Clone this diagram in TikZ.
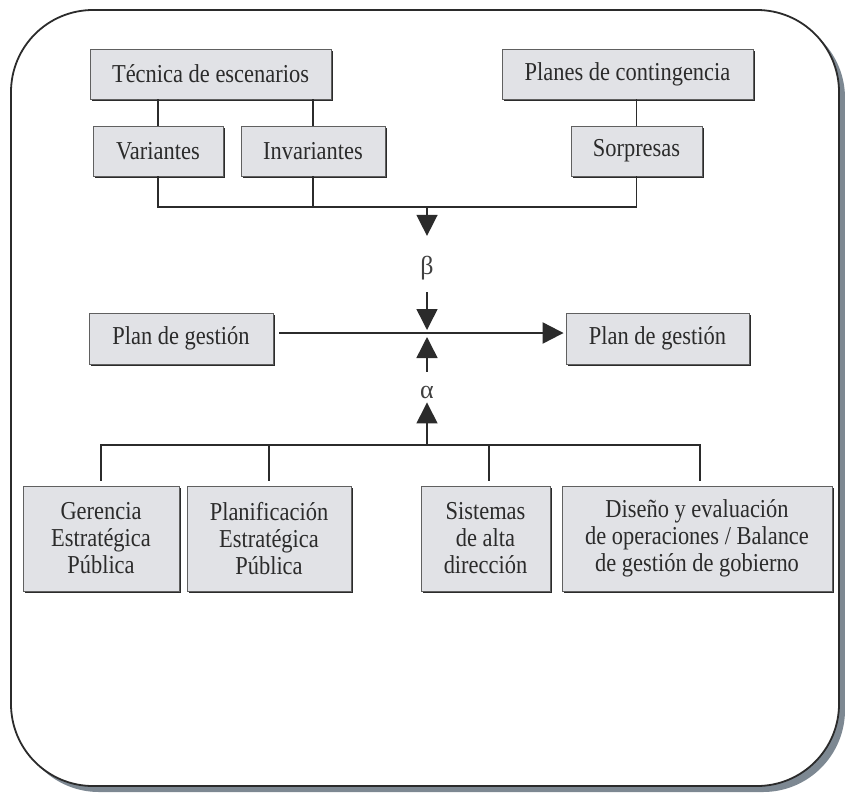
\documentclass[tikz,border=0pt]{standalone}
\usepackage{fontspec}
\setmainfont{Liberation Serif}[FakeStretch=0.87]
\newfontfamily\greekfont{Liberation Serif}
\usetikzlibrary{arrows.meta,shadows}
\definecolor{boxfill}{HTML}{E1E2E6}
\definecolor{shadowc}{HTML}{7D8892}
\definecolor{linec}{HTML}{2B2B2B}
\begin{document}
\begin{tikzpicture}[x=1pt,y=-1pt,
  box/.style={draw=linec!75, line width=0.9pt, fill=boxfill, inner sep=0pt, align=center,
    font=\fontsize{25.8}{27}\selectfont, text=linec,
    drop shadow={shadow xshift=1.6pt, shadow yshift=-1.6pt, fill=linec, opacity=1}},
  conn/.style={draw=linec, line width=1.5pt},
  arr/.style={conn, -{Triangle[length=21pt,width=21pt]}},
  greek/.style={font=\greekfont\fontsize{26}{28}\selectfont, text=linec!90, inner sep=0pt}]
\useasboundingbox (0,0) rectangle (845,793);
% outer frame
\fill[shadowc, rounded corners=82pt] (17,16) rectangle (845,792);
\filldraw[fill=white, draw=linec, line width=1.8pt, rounded corners=82pt] (11,10) rectangle (839,786);

% top boxes
\node[box, minimum width=241pt, minimum height=50pt] (tec) at (210.5,74) {Técnica de escenarios};
\node[box, minimum width=251pt, minimum height=50pt] (pla) at (627.5,74) {Planes de contingencia};
\node[box, minimum width=130pt, minimum height=50pt] (var) at (158,151) {Variantes};
\node[box, minimum width=144pt, minimum height=50pt] (inv) at (313,151) {Invariantes};
\node[box, minimum width=131pt, minimum height=50pt] (sor) at (636.5,151) {Sorpresas};

% middle boxes
\node[box, minimum width=184pt, minimum height=51pt] (pl1) at (181,338.5) {Plan de gestión};
\node[box, minimum width=183pt, minimum height=51pt] (pl2) at (657.5,338.5) {Plan de gestión};

% bottom boxes
\node[box, minimum width=156pt, minimum height=105pt] (ger) at (101,538.5) {Gerencia\\Estratégica\\Pública};
\node[box, minimum width=164pt, minimum height=105pt] (pln) at (269,538.5) {Planificación\\Estratégica\\Pública};
\node[box, minimum width=129pt, minimum height=105pt] (sis) at (485.5,538.5) {Sistemas\\de alta\\dirección};
\node[box, minimum width=270pt, minimum height=105pt] (dis) at (697,538.5) {Diseño y evaluación\\de operaciones / Balance\\de gestión de gobierno};

% greek labels
\node[greek] (beta) at (427,268) {β};
\node[greek] (alpha) at (427,392) {α};

% coordinates
\coordinate (topbar) at (427,207);
\coordinate (cross) at (427,333);
\coordinate (botbar) at (427,445);

% top connectors
\draw[conn] (var.north) -- (var.north |- tec.south);
\draw[conn] (inv.north) -- (inv.north |- tec.south);
\draw[conn] (sor.north) -- (sor.north |- pla.south);
\draw[conn] (var.south) -- (var.south |- topbar) -- (sor.south |- topbar) -- (sor.south);
\draw[conn] (inv.south) -- (inv.south |- topbar);
\draw[arr] (topbar) -- ([yshift=20pt]beta.north);
\draw[arr] ([yshift=-12pt]beta.south) -- ([yshift=3pt]cross);

% horizontal main arrow
\draw[arr, line width=2.2pt] ([xshift=6pt]pl1.east |- cross) -- ([xshift=-2pt]pl2.west |- cross);

% bottom connectors
\draw[arr] ([yshift=14pt]alpha.north) -- ([yshift=-4pt]cross);
\draw[arr] (botbar) -- ([yshift=-4pt]alpha.south);
\draw[conn] ([yshift=5pt]ger.north) -- (ger.north |- botbar) -- ([xshift=3pt]dis.north |- botbar) -- ([xshift=3pt,yshift=5pt]dis.north);
\draw[conn] ([yshift=5pt]pln.north) -- (pln.north |- botbar);
\draw[conn] ([xshift=3.5pt,yshift=5pt]sis.north) -- ([xshift=3.5pt]sis.north |- botbar);
\end{tikzpicture}
\end{document}
